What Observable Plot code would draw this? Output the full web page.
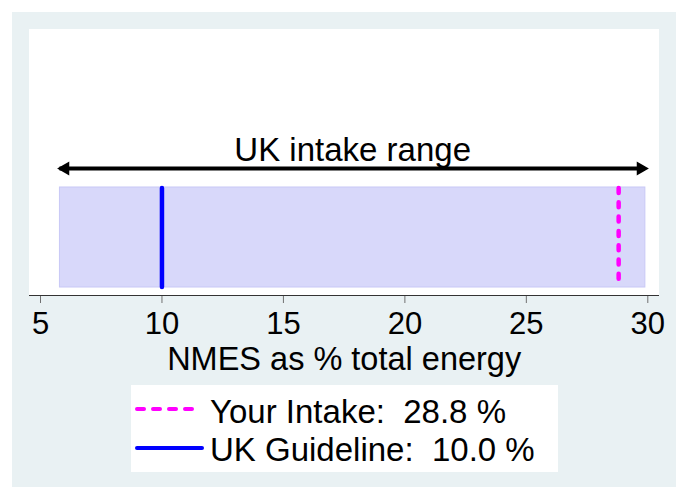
<!DOCTYPE html>
<html><head><meta charset="utf-8">
<script src="https://cdn.jsdelivr.net/npm/d3@7"></script>
<script src="https://cdn.jsdelivr.net/npm/@observablehq/plot@0.6"></script>
<style>
body{margin:0;background:#fff;font-family:"Liberation Sans",Arial,sans-serif;color:#000;}
#wrap{position:relative;width:683px;height:487px;overflow:hidden;}
#outer{position:absolute;left:12px;top:12px;width:664px;height:475px;background:#e9f1f3;}
#plotbg{position:absolute;left:29px;top:29px;width:630px;height:266px;background:#fff;border-bottom:1.5px solid #333;}
#chart{position:absolute;left:0;top:0;}
#legend{position:absolute;left:131px;top:385px;width:427px;height:87px;background:#fff;}
#legend svg{position:absolute;left:0;top:0;}
#legend .lab{position:absolute;left:79px;font-size:33px;line-height:33px;white-space:pre;}
</style>
</head><body>
<div id="wrap">
  <div id="outer"></div>
  <div id="plotbg"></div>
  <div id="chart"></div>
  <div id="legend"></div>
</div>
<script>
// ---- data ----
const xTicks = [5, 10, 15, 20, 25, 30];
const intakeRange = [{lo: 5.8, hi: 29.9}];
const yourIntake = [28.8];
const ukGuideline = [10.0];
const rangeLabel = ["UK intake range"];
const axisTitle = ["NMES as % total energy"];
const legendNames = ["Your Intake:", "UK Guideline:"];
const legendValues = [yourIntake[0], ukGuideline[0]];

const yTop = 1;
const chart = Plot.plot({
  width: 683, height: 487,
  marginLeft: 40, marginRight: 35.7, marginTop: 187, marginBottom: 191,
  style: {background: "transparent", fontFamily: "'Liberation Sans', Arial, sans-serif", color: "#000", overflow: "visible"},
  x: {domain: [5, 30]},
  y: {domain: [0, 1], axis: null},
  marks: [
    Plot.barX(intakeRange, {x1: "lo", x2: "hi", insetBottom: 9, fill: "#d8d8fa", stroke: "#c8c8f6", strokeWidth: 1}),
    Plot.ruleX(ukGuideline, {stroke: "#0000ff", strokeWidth: 4.5, strokeLinecap: "round", insetBottom: 9, insetTop: 1}),
    Plot.ruleX(yourIntake, {stroke: "#ff00ff", strokeWidth: 4.5, strokeLinecap: "round", strokeDasharray: "5,9.3", insetBottom: 9, insetTop: 1}),
    Plot.ruleY(intakeRange, {y: () => yTop, x1: "lo", x2: "hi", dy: -19, stroke: "#000", strokeWidth: 4}),
    Plot.dot(intakeRange, {x: "hi", y: () => yTop, symbol: "triangle", rotate: 90, r: 5.2, fill: "#000", stroke: "none", dy: -19, dx: -4.6}),
    Plot.dot(intakeRange, {x: "lo", y: () => yTop, symbol: "triangle", rotate: -90, r: 5.2, fill: "#000", stroke: "none", dy: -19, dx: 5.3}),
    Plot.text(rangeLabel, {x: intakeRange.map(d => (d.lo + d.hi) / 2), y: () => yTop, text: d => d, dy: -27, lineAnchor: "bottom", fontSize: 33, fill: "#000"}),
    Plot.axisX(xTicks, {anchor: "bottom", tickSize: 7, tickPadding: 8.5, fontSize: 31, stroke: "#707070", fill: "#000"}),
    Plot.text(axisTitle, {frameAnchor: "bottom", text: d => d, dy: 73, lineAnchor: "bottom", fontSize: 32.5, fill: "#000"})
  ]
});
document.getElementById("chart").appendChild(chart);

// ---- legend ----
const leg = document.getElementById("legend");
const ns = "http://www.w3.org/2000/svg";
const sw = document.createElementNS(ns, "svg");
sw.setAttribute("width", 427); sw.setAttribute("height", 87);
const swatches = [
  {y: 24, x2: 64, stroke: "#ff00ff", dash: "7,9"},
  {y: 63, x2: 71, stroke: "#0000ff", dash: null}
];
swatches.forEach(s => {
  const l = document.createElementNS(ns, "line");
  l.setAttribute("x1", 6); l.setAttribute("x2", s.x2);
  l.setAttribute("y1", s.y); l.setAttribute("y2", s.y);
  l.setAttribute("stroke", s.stroke); l.setAttribute("stroke-width", 4);
  l.setAttribute("stroke-linecap", "round");
  if (s.dash) l.setAttribute("stroke-dasharray", s.dash);
  sw.appendChild(l);
});
leg.appendChild(sw);
const tops = [10, 48];
legendNames.forEach((n, i) => {
  const d = document.createElement("div");
  d.className = "lab";
  d.style.top = tops[i] + "px";
  d.textContent = n + "  " + legendValues[i].toFixed(1) + " %";
  leg.appendChild(d);
});
</script>
</body></html>
